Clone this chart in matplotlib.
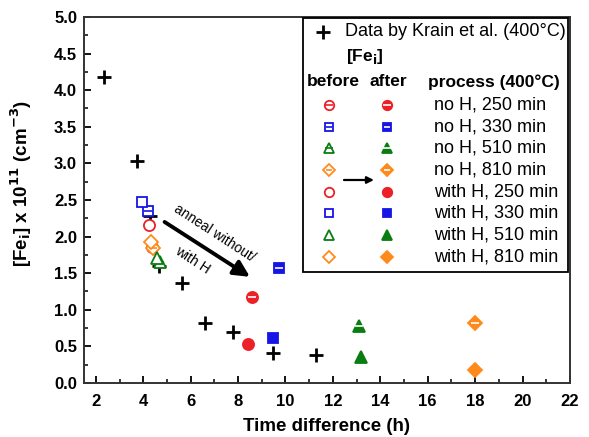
import matplotlib
matplotlib.use('Agg')
import matplotlib.pyplot as plt
from matplotlib.patches import Rectangle

plt.rcParams['font.family'] = ['Liberation Sans', 'DejaVu Sans']

# Krain et al. reference data
krain_t = [2.35, 3.75, 4.28, 4.66, 5.63, 6.6, 7.78, 9.47, 11.3]
krain_fe = [4.18, 3.03, 2.28, 1.6, 1.37, 0.82, 0.7, 0.41, 0.38]

# own samples: before / after anneal
processes = ['no H, 250 min', 'no H, 330 min', 'no H, 510 min', 'no H, 810 min',
             'with H, 250 min', 'with H, 330 min', 'with H, 510 min', 'with H, 810 min']
with_h = [False, False, False, False, True, True, True, True]
before_t = [4.35, 4.19, 4.7, 4.4, 4.24, 3.94, 4.57, 4.32]
before_fe = [1.86, 2.35, 1.65, 1.84, 2.16, 2.47, 1.71, 1.93]
after_t = [8.58, 9.72, 13.1, 18.0, 8.4, 9.47, 13.2, 18.0]
after_fe = [1.17, 1.57, 0.78, 0.82, 0.53, 0.61, 0.36, 0.18]

x_ticks = [2, 4, 6, 8, 10, 12, 14, 16, 18, 20, 22]
y_ticks = [0.0, 0.5, 1.0, 1.5, 2.0, 2.5, 3.0, 3.5, 4.0, 4.5, 5.0]

colors = ['#ec2027', '#1515e6', '#0a7d12', '#ff8a1c'] * 2
markers = ['o', 's', '^', 'D'] * 2
sizes = [8, 7.5, 8.5, 7] * 2


def draw_marker(ax, x, y, m, c, ms, filled, striped, **kw):
    fc = c if filled else 'white'
    ax.plot(x, y, ls='none', marker=m, ms=ms, mfc=fc, mec=c, mew=1.3, **kw)
    if striped:
        sc = 'white' if filled else c
        ax.plot(x, y, ls='none', marker='_', ms=ms * 0.75, mec=sc, mew=1.2, **kw)


fig = plt.figure(figsize=(5.89, 4.37), dpi=100)
ax = fig.add_axes([0.1426, 0.1236, 0.8251, 0.8375])

ax.plot(krain_t, krain_fe, ls='none', marker='+', ms=10, mew=2, color='black', zorder=3)

for i in range(len(processes)):
    draw_marker(ax, before_t[i], before_fe[i], markers[i], colors[i], sizes[i],
                False, not with_h[i], zorder=4)
    draw_marker(ax, after_t[i], after_fe[i], markers[i], colors[i], sizes[i],
                True, not with_h[i], zorder=4)

ax.annotate('', xy=(8.5, 1.45), xytext=(4.9, 2.2),
            arrowprops=dict(arrowstyle='-|>', lw=2.8, color='black', mutation_scale=24,
                            shrinkA=0, shrinkB=0))
ax.text(7.02, 2.05, 'anneal without/', rotation=-33, ha='center', va='center',
        rotation_mode='anchor', fontsize=10)
ax.text(6.09, 1.68, 'with H', rotation=-33, ha='center', va='center',
        rotation_mode='anchor', fontsize=10)

ax.set_xlim(1.5, 22)
ax.set_ylim(0, 5.0)
ax.set_xticks(x_ticks, [str(t) for t in x_ticks], fontweight='bold')
ax.set_xticks(range(3, 22, 2), minor=True)
ax.set_yticks(y_ticks, [f'{t:.1f}' for t in y_ticks], fontweight='bold')
ax.set_yticks([0.25 + i * 0.5 for i in range(10)], minor=True)
ax.tick_params(direction='in', length=5, width=1.3, labelsize=12, pad=5)
ax.tick_params(axis='x', pad=8)
ax.tick_params(which='minor', direction='in', length=3, width=1.1)
for sp in ax.spines.values():
    sp.set_linewidth(1.4)
    sp.set_color('#333333')

ax.set_xlabel('Time difference (h)', fontsize=13.5, fontweight='bold')
ax.set_ylabel(r'[Fe$_\mathbf{i}$] x 10$^{\mathbf{11}}$ (cm$^{\mathbf{-3}}$)',
              fontsize=13.5, fontweight='bold')
ax.xaxis.set_label_coords(0.5, -0.095)
ax.yaxis.set_label_coords(-0.103, 0.546)


# legend, laid out in axes fractions from pixel positions
def lx(px):
    return (px - 84) / 486


def ly(py):
    return (383 - py) / 366


tr = ax.transAxes
ax.add_patch(Rectangle((lx(303), ly(272)), lx(568) - lx(303), ly(18) - ly(272),
                       transform=tr, facecolor='white', edgecolor='black', lw=1.3,
                       zorder=5, clip_on=False))
ax.plot(lx(323), ly(32), marker='+', ms=10, mew=2, color='black', transform=tr,
        zorder=6, clip_on=False)
ax.text(lx(345), ly(32), 'Data by Krain et al. (400°C)', transform=tr, fontsize=13,
        va='center', zorder=6)
ax.text(lx(346), ly(57), r'[Fe$_\mathbf{i}$]', transform=tr, fontsize=12.5,
        fontweight='bold', va='center', zorder=6)
ax.text(lx(307), ly(82), 'before', transform=tr, fontsize=12.5, fontweight='bold',
        va='center', zorder=6)
ax.text(lx(370), ly(82), 'after', transform=tr, fontsize=12.5, fontweight='bold',
        va='center', zorder=6)
ax.text(lx(428), ly(82), 'process (400°C)', transform=tr, fontsize=12.5,
        fontweight='bold', va='center', zorder=6)
for i, name in enumerate(processes):
    yy = ly(105 + 21.7 * i)
    draw_marker(ax, lx(329), yy, markers[i], colors[i], sizes[i] * 0.85,
                False, not with_h[i], transform=tr, zorder=6, clip_on=False)
    draw_marker(ax, lx(387), yy, markers[i], colors[i], sizes[i] * 0.85,
                True, not with_h[i], transform=tr, zorder=6, clip_on=False)
    ax.text(lx(434), yy, name, transform=tr, fontsize=13, va='center', zorder=6)
ax.annotate('', xy=(lx(374), ly(180)), xytext=(lx(344), ly(180)), xycoords=tr,
            arrowprops=dict(arrowstyle='-|>', lw=1.6, color='black', mutation_scale=10,
                            shrinkA=0, shrinkB=0), zorder=6)

fig.savefig('out.png', dpi=100)
